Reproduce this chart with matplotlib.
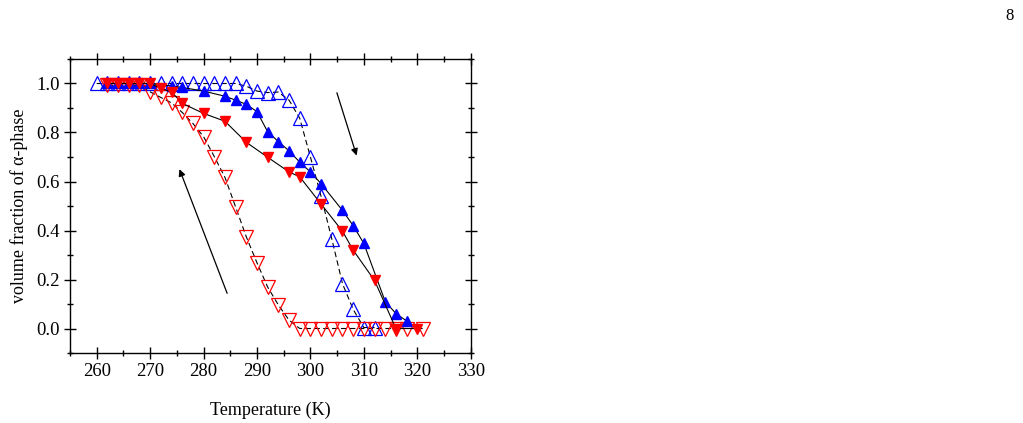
import numpy as np
import matplotlib
matplotlib.use('Agg')
import matplotlib.pyplot as plt
from matplotlib.ticker import MultipleLocator

plt.rcParams['font.family'] = ['Liberation Serif', 'DejaVu Serif']

# open blue up triangles
t_open_up = [260, 262, 264, 266, 268, 270, 272, 274, 276, 278, 280, 282, 284, 286,
             288, 290, 292, 294, 296, 298, 300, 302, 304, 306, 308, 310, 312]
v_open_up = [1.0, 1.0, 1.0, 1.0, 1.0, 1.0, 1.0, 1.0, 1.0, 1.0, 1.0, 1.0, 1.0, 1.0,
             0.989, 0.969, 0.963, 0.965, 0.932, 0.858, 0.70, 0.539, 0.366, 0.183, 0.078, 0.004, 0.004]

# filled blue up triangles
t_full_up = [262, 264, 266, 268, 270, 274, 276, 280, 284, 286, 288, 290, 292, 294,
             296, 298, 300, 302, 306, 308, 310, 314, 316, 318]
v_full_up = [1.0, 1.0, 1.0, 1.0, 1.0, 0.99, 0.984, 0.969, 0.948, 0.932, 0.915, 0.885, 0.803, 0.763,
             0.725, 0.679, 0.639, 0.591, 0.482, 0.42, 0.347, 0.11, 0.061, 0.031]

# filled red down triangles
t_full_dn = [262, 264, 266, 268, 270, 272, 274, 276, 280, 284, 288, 292, 296, 298,
             302, 306, 308, 312, 316, 320]
v_full_dn = [1.0, 1.0, 1.0, 1.0, 1.0, 0.98, 0.966, 0.919, 0.878, 0.846, 0.76, 0.699, 0.639, 0.619,
             0.508, 0.397, 0.32, 0.196, 0.0, 0.0]

# open red down triangles
t_open_dn = [262, 264, 266, 268, 270, 272, 274, 276, 278, 280, 282, 284, 286, 288, 290,
             292, 294, 296, 298, 300, 302, 304, 306, 308, 310, 312, 314, 316, 318, 321]
v_open_dn = [0.993, 0.993, 0.993, 0.993, 0.966, 0.943, 0.921, 0.882, 0.837, 0.783, 0.702, 0.617,
             0.496, 0.374, 0.268, 0.169, 0.096, 0.034, 0.0, 0.0, 0.0, 0.0, 0.0, 0.0, 0.0,
             0.0, 0.0, 0.0, 0.0, 0.0]

fig = plt.figure(figsize=(10.23, 4.23), dpi=100)
ax = fig.add_axes([70 / 1023, 70 / 423, 400.7 / 1023, 294 / 423])

blue = '#0000ff'
red = '#ff0000'

ax.plot(t_open_up, v_open_up, color='k', lw=0.8, ls=(0, (5, 3)), marker='^', ms=10,
        mfc='none', mec=blue, mew=0.9, zorder=2)
ax.plot(t_open_dn, v_open_dn, color='k', lw=0.8, ls=(0, (5, 3)), marker='v', ms=10,
        mfc='none', mec=red, mew=0.9, zorder=2)
ax.plot(t_full_up, v_full_up, color='k', lw=0.8, marker='^', ms=6.5,
        mfc=blue, mec=blue, zorder=3)
ax.plot(t_full_dn, v_full_dn, color='k', lw=0.8, marker='v', ms=6.5,
        mfc=red, mec=red, zorder=3)

# arrows
ax.annotate('', xy=(275.3, 0.661), xytext=(284.6, 0.133),
            arrowprops=dict(arrowstyle='-|>', color='k', lw=0.9, mutation_scale=10))
ax.annotate('', xy=(308.8, 0.695), xytext=(304.8, 0.973),
            arrowprops=dict(arrowstyle='-|>', color='k', lw=0.9, mutation_scale=10))

ax.set_xlim(255, 330)
ax.set_ylim(-0.1, 1.1)
ax.xaxis.set_major_locator(MultipleLocator(10))
ax.xaxis.set_minor_locator(MultipleLocator(5))
ax.yaxis.set_minor_locator(MultipleLocator(0.1))
ax.set_yticks([0.0, 0.2, 0.4, 0.6, 0.8, 1.0])
ax.set_yticklabels(['0.0', '0.2', '0.4', '0.6', '0.8', '1.0'])
ax.tick_params(which='both', direction='inout', top=True, right=True, labelsize=13.5, width=1)
ax.tick_params(which='major', length=8)
ax.tick_params(which='minor', length=4)
for s in ax.spines.values():
    s.set_linewidth(1)

ax.set_xlabel('Temperature (K)', fontsize=13, labelpad=15)
ax.set_ylabel('volume fraction of \u03b1-phase', fontsize=13, labelpad=6)

fig.text(1010 / 1023, 1 - 16 / 423, '8', fontsize=12, ha='center', va='center')

fig.savefig('out.png', dpi=100)
